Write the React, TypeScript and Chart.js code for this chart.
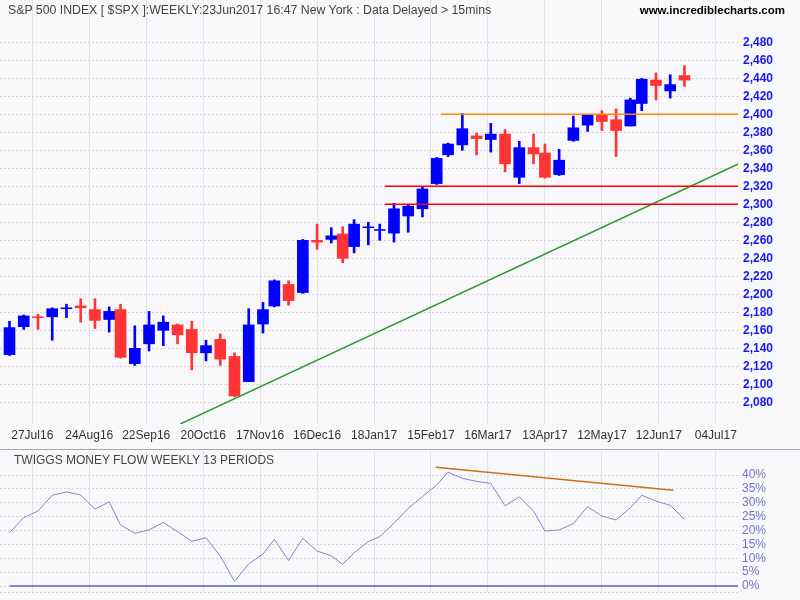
import React, { useEffect, useRef } from 'react';
import { Chart, registerables } from 'chart.js';

Chart.register(...registerables);

// ---- data ----
// weekly candles, week ending Friday, first week 15 Jul 2016 (x axis counts trading days)
const firstWeekEnding = '2016-07-15';
const marketHolidays = ['2016-09-05', '2016-11-24', '2016-12-26', '2017-01-02', '2017-01-16', '2017-02-20', '2017-04-14', '2017-05-29'];

const openP = [2133, 2164, 2175, 2175, 2184, 2187, 2183, 2172, 2183, 2123, 2145, 2160, 2166, 2161, 2135, 2150, 2131, 2103, 2167, 2187, 2211, 2202, 2260, 2261, 2267, 2253, 2274, 2271, 2268, 2287, 2295, 2323, 2355, 2366, 2376, 2372, 2378, 2330, 2363, 2357, 2333, 2371, 2388, 2400, 2394, 2387, 2412, 2438, 2426, 2443];
const highP = [2170, 2177, 2178, 2185, 2189, 2195, 2195, 2186, 2189, 2165, 2181, 2176, 2167, 2170, 2149, 2156, 2135, 2184, 2191, 2216, 2215, 2261, 2278, 2274, 2275, 2283, 2280, 2278, 2301, 2300, 2320, 2352, 2368, 2401, 2379, 2390, 2383, 2370, 2378, 2367, 2361, 2398, 2400, 2404, 2406, 2418, 2440, 2446, 2444, 2454];
const lowP = [2132, 2161, 2161, 2149, 2174, 2169, 2162, 2158, 2129, 2121, 2137, 2143, 2145, 2116, 2126, 2121, 2086, 2103, 2157, 2186, 2188, 2201, 2250, 2257, 2235, 2246, 2255, 2260, 2258, 2269, 2286, 2322, 2353, 2360, 2355, 2358, 2336, 2323, 2345, 2329, 2332, 2370, 2381, 2382, 2353, 2387, 2404, 2416, 2418, 2431];
const closeP = [2163, 2176, 2174, 2184, 2185, 2185, 2171, 2181, 2130, 2140, 2166, 2169, 2155, 2135, 2143, 2128, 2087, 2166, 2183, 2215, 2193, 2260, 2258, 2265, 2240, 2278, 2275, 2272, 2295, 2298, 2317, 2351, 2367, 2384, 2373, 2378, 2345, 2363, 2356, 2330, 2349, 2385, 2399, 2392, 2382, 2416, 2439, 2432, 2433, 2438];

const tmf = [19.2, 24.7, 27.0, 32.7, 33.9, 32.8, 27.7, 30.3, 22.0, 19.0, 20.2, 22.9, 19.6, 16.1, 17.4, 10.8, 1.7, 8.0, 11.5, 16.8, 9.2, 17.2, 12.6, 10.9, 7.8, 12.0, 16.0, 17.8, 22.6, 28.0, 32.2, 36.4, 41.0, 38.8, 37.7, 37.0, 28.9, 32.1, 27.0, 19.8, 20.2, 22.5, 28.6, 25.2, 23.8, 28.2, 32.7, 30.6, 29.1, 24.0];

// x tick labels and their trading-day positions
const xTickLabels = ['27Jul16', '24Aug16', '22Sep16', '20Oct16', '17Nov16', '16Dec16', '18Jan17', '15Feb17', '16Mar17', '13Apr17', '12May17', '12Jun17', '04Jul17'];
const xTickDays = [8, 28, 48, 68, 88, 108, 128, 148, 168, 188, 208, 228, 248];

const priceTicks = [2080, 2100, 2120, 2140, 2160, 2180, 2200, 2220, 2240, 2260, 2280, 2300, 2320, 2340, 2360, 2380, 2400, 2420, 2440, 2460, 2480];
const tmfTicks = [0, 5, 10, 15, 20, 25, 30, 35, 40];

// drawn lines (levels in price / percent, positions in trading days)
const resistanceLevel = 2400;
const resistanceFromDay = 151.5;
const supportLevels = [2320, 2300];
const supportFromDay = 131.8;
const priceTrendDays = [60, 256];
const priceTrendValues = [2056, 2345];
const tmfTrendDays = [149.7, 233.1];
const tmfTrendValues = [42.8, 34.5];

const titleText = 'S&P 500 INDEX [ $SPX ]:WEEKLY:23Jun2017 16:47 New York : Data Delayed > 15mins';
const siteText = 'www.incrediblecharts.com';
const tmfTitle = 'TWIGGS MONEY FLOW WEEKLY 13 PERIODS';

// ---- layout constants ----
const X_MIN = -3.336;
const X_MAX = 255.8;
const BLUE = '#0000ff';
const RED = '#ff3535';
const SANS = "'Liberation Sans', Arial, sans-serif";

const DAY = 86400000;
const holidaySet = new Set(marketHolidays);
// number of trading days after the first week-ending date, up to and including d
const tradingDay = (t: number) => {
  const start = Date.parse(firstWeekEnding + 'T00:00:00Z');
  let n = 0;
  for (let u = start + DAY; u <= t; u += DAY) {
    const dt = new Date(u);
    const wd = dt.getUTCDay();
    if (wd === 0 || wd === 6) continue;
    if (holidaySet.has(dt.toISOString().slice(0, 10))) continue;
    n++;
  }
  return n;
};

const fitY = (s: any) => {
  s.width = 62;
  s.paddingTop = 0;
  s.paddingBottom = 0;
};

export default function App() {
  const topRef = useRef<HTMLCanvasElement>(null);
  const botRef = useRef<HTMLCanvasElement>(null);

  useEffect(() => {
    document.body.style.margin = '0';
    const start = Date.parse(firstWeekEnding + 'T00:00:00Z');
    const idx = closeP.map((_, i) => i);
    const xs = idx.map((i) => tradingDay(start + i * 7 * DAY));
    const colors = idx.map((i) => (closeP[i] >= openP[i] ? BLUE : RED));

    const xAxis = (showLabels: boolean, h: number) => ({
      type: 'linear',
      min: X_MIN,
      max: X_MAX,
      offset: false,
      afterBuildTicks: (s: any) => {
        s.ticks = xTickDays.map((v) => ({ value: v }));
      },
      afterFit: (s: any) => {
        s.height = h;
        s.paddingLeft = 0;
        s.paddingRight = 0;
      },
      ticks: {
        display: showLabels,
        autoSkip: false,
        maxRotation: 0,
        padding: 4,
        color: '#333333',
        font: { family: SANS, size: 12 },
        callback: (_v: any, i: number) => xTickLabels[i],
      },
      grid: { color: '#e3e3e7', lineWidth: 1, drawTicks: false, offset: false },
      border: { display: false },
    });

    const top = new Chart(topRef.current!, {
      type: 'bar',
      data: {
        datasets: [
          {
            type: 'line',
            data: [
              { x: resistanceFromDay, y: resistanceLevel },
              { x: X_MAX, y: resistanceLevel },
            ],
            borderColor: '#ff8a00',
            borderWidth: 1.5,
            pointRadius: 0,
            order: -1,
          },
          ...supportLevels.map((lv) => ({
            type: 'line',
            data: [
              { x: supportFromDay, y: lv },
              { x: X_MAX, y: lv },
            ],
            borderColor: '#ff0000',
            borderWidth: 1.5,
            pointRadius: 0,
            order: -1,
          })),
          {
            type: 'line',
            data: priceTrendDays.map((w, i) => ({ x: w, y: priceTrendValues[i] })),
            borderColor: '#2f9a2f',
            borderWidth: 1.5,
            pointRadius: 0,
            order: -1,
          },
          {
            type: 'bar',
            data: idx.map((i) => ({ x: xs[i], y: [openP[i], closeP[i]] })),
            backgroundColor: colors,
            barThickness: 11,
            grouped: false,
            order: 0,
          },
          {
            type: 'bar',
            data: idx.map((i) => ({ x: xs[i], y: [lowP[i], highP[i]] })),
            backgroundColor: colors,
            barThickness: 2,
            grouped: false,
            order: 1,
          },
        ] as any,
      },
      options: {
        animation: false,
        responsive: false,
        devicePixelRatio: 1,
        layout: { padding: 0 },
        plugins: { legend: { display: false }, tooltip: { enabled: false }, title: { display: false } },
        scales: {
          x: xAxis(true, 26) as any,
          y: {
            type: 'linear',
            position: 'right',
            min: 2055.9,
            max: 2527,
            afterBuildTicks: (s: any) => {
              s.ticks = priceTicks.map((v) => ({ value: v }));
            },
            afterFit: fitY,
            ticks: {
              autoSkip: false,
              padding: 5,
              color: '#1717ee',
              font: { family: SANS, size: 12, weight: 'bold' },
              callback: (v: any) => Number(v).toLocaleString('en-US'),
            },
            grid: { color: '#d5d5da', drawTicks: false },
            border: { display: false, dash: [2, 2] },
          } as any,
        },
      },
    });

    const bot = new Chart(botRef.current!, {
      type: 'line',
      data: {
        datasets: [
          {
            data: [
              { x: 0, y: 0 },
              { x: X_MAX, y: 0 },
            ],
            borderColor: '#6262cc',
            borderWidth: 1.5,
            pointRadius: 0,
          },
          {
            data: tmfTrendDays.map((w, i) => ({ x: w, y: tmfTrendValues[i] })),
            borderColor: '#cc6f1c',
            borderWidth: 1.5,
            pointRadius: 0,
          },
          {
            data: idx.map((i) => ({ x: xs[i], y: tmf[i] })),
            borderColor: '#8585c8',
            borderWidth: 1,
            pointRadius: 0,
          },
        ],
      },
      options: {
        animation: false,
        responsive: false,
        devicePixelRatio: 1,
        layout: { padding: 0 },
        plugins: { legend: { display: false }, tooltip: { enabled: false } },
        scales: {
          x: xAxis(false, 8) as any,
          y: {
            type: 'linear',
            position: 'right',
            min: -2.16,
            max: 48.65,
            afterBuildTicks: (s: any) => {
              s.ticks = [{ value: -2.16 }, ...tmfTicks.map((v) => ({ value: v }))];
            },
            afterFit: fitY,
            ticks: {
              autoSkip: false,
              padding: 4,
              color: '#7373c4',
              font: { family: SANS, size: 12 },
              callback: (v: any) => (v < 0 ? '' : v + '%'),
            },
            grid: { color: '#d5d5da', drawTicks: false },
            border: { display: false, dash: [2, 2] },
          } as any,
        },
      },
    });

    return () => {
      top.destroy();
      bot.destroy();
    };
  }, []);

  const textBase: React.CSSProperties = {
    position: 'absolute',
    whiteSpace: 'nowrap',
    fontFamily: SANS,
    fontSize: 12,
    lineHeight: '14px',
  };

  return (
    <div style={{ position: 'relative', width: 800, height: 600, background: '#f8f8fb', overflow: 'hidden' }}>
      <canvas ref={topRef} width={800} height={450} style={{ position: 'absolute', left: 0, top: 0, width: 800, height: 450 }} />
      <div style={{ position: 'absolute', left: 0, top: 449, width: 800, height: 1, background: '#a9a9ad' }} />
      <canvas ref={botRef} width={800} height={149} style={{ position: 'absolute', left: 0, top: 451, width: 800, height: 149 }} />
      <div style={{ ...textBase, left: 8, top: 3, color: '#444', fontSize: 12.3 }}>{titleText}</div>
      <div style={{ ...textBase, right: 15, top: 3, color: '#000', fontWeight: 'bold', fontSize: 11.5 }}>{siteText}</div>
      <div style={{ ...textBase, left: 14, top: 453, color: '#444' }}>{tmfTitle}</div>
    </div>
  );
}
